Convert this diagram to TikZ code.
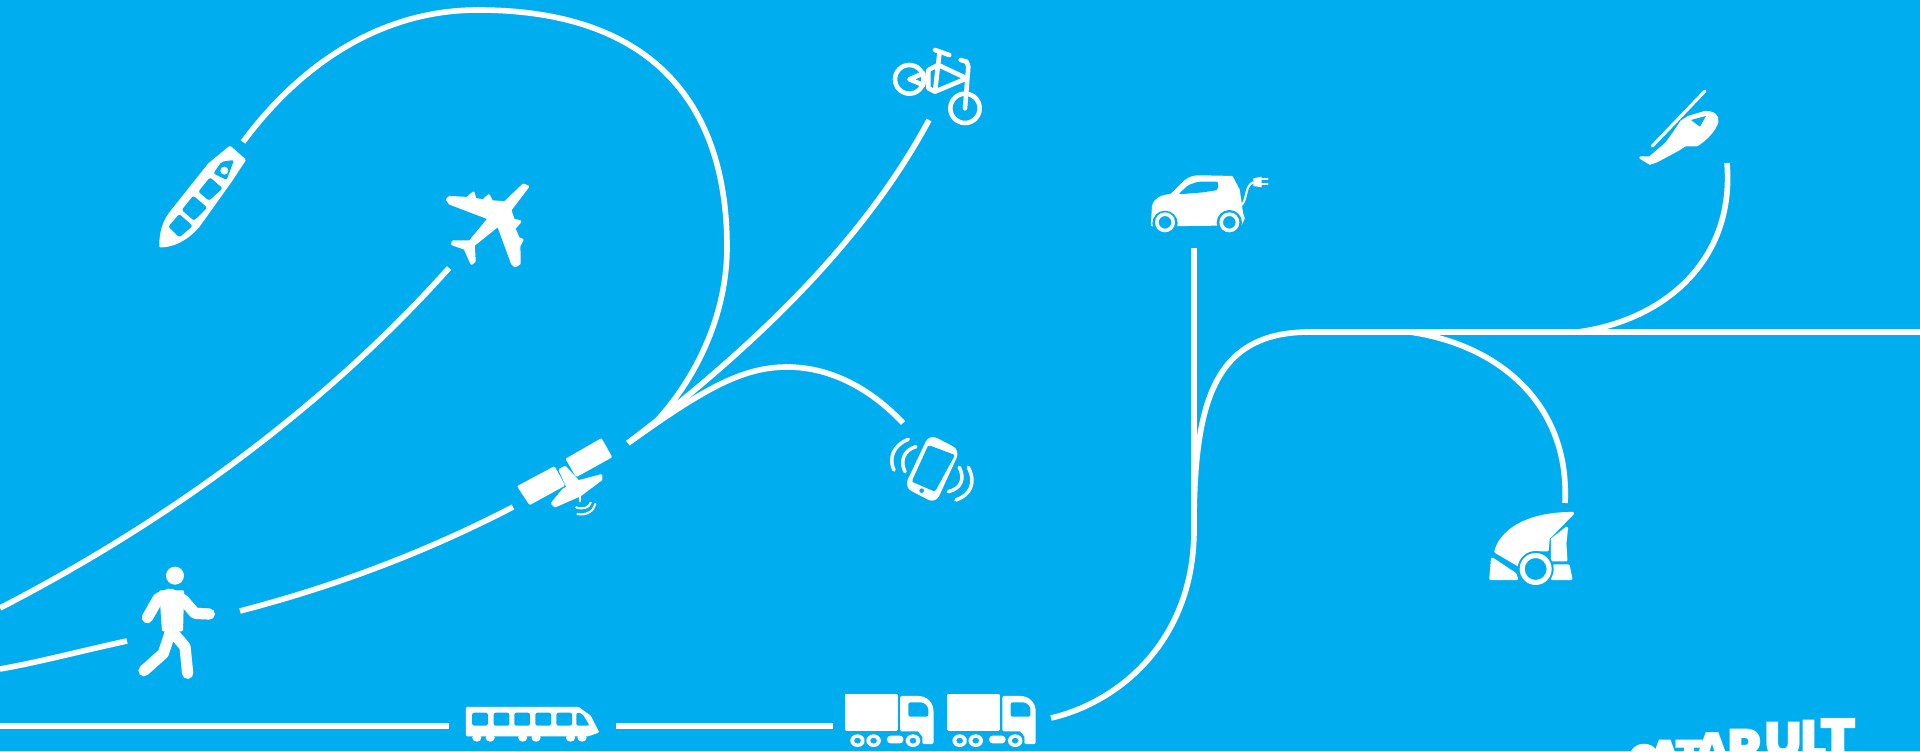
\documentclass[tikz,border=0pt]{standalone}
\usepackage{fontspec}
\newfontfamily\logofont{Poppins Black}
\definecolor{SkyBlue}{RGB}{0,174,239}
\tikzset{
  route/.style={draw=white,line width=1.6pt},
  solid icon/.style={fill=white,draw=white,line width=0.8pt,line join=round},
  cutout/.style={fill=SkyBlue,rounded corners=0.6pt},
  thin icon/.style={draw=white,line width=1.3pt,line cap=round,line join=round},
  limb/.style={draw=white,line width=3.2pt,line cap=round,line join=round},
  logoletter/.style={text=white,inner sep=0pt,anchor=base west,font=\logofont},
}
\begin{document}
\begin{tikzpicture}[x=0.01cm,y=-0.01cm]
\clip (0,0) rectangle (1920,751);
\fill[SkyBlue] (0,0) rectangle (1920,751);
% route ends
\coordinate (shipend) at (243,142);
\coordinate (hub) at (628,443);
\coordinate (bikeend) at (929,120);
\coordinate (phoneend) at (903,423);
\coordinate (planeend) at (449,268);
\coordinate (leftA) at (0,608);
\coordinate (satleft) at (513,507);
\coordinate (walkright) at (240,611);
\coordinate (walkleft) at (127,641);
\coordinate (leftB) at (0,669);
\coordinate (leftC) at (0,726);
\coordinate (trainleft) at (449,726);
\coordinate (trainright) at (616,726);
\coordinate (truckleft) at (833,726);
\coordinate (truckright) at (1051,718);
\coordinate (carend) at (1194,248);
\coordinate (split) at (1194,520);
\coordinate (rightedge) at (1920,332);
\coordinate (heliend) at (1727,163);
\coordinate (sweepend) at (1565,503);
% routes
\draw[route] (shipend) .. controls (300,65) and (380,10) .. (478,10) .. controls (658,10) and (727,110) .. (727,247) .. controls (727,310) and (700,375) .. (653,425) -- (hub);
\draw[route] (bikeend) .. controls (870,230) and (770,335) .. (hub);
\draw[route] (phoneend) .. controls (870,388) and (830,367) .. (787,367) .. controls (740,367) and (700,392) .. (hub);
\draw[route] (planeend) .. controls (340,390) and (190,510) .. (leftA);
\draw[route] (satleft) .. controls (430,550) and (340,585) .. (walkright);
\draw[route] (walkleft) .. controls (85,650) and (40,662) .. (leftB);
\draw[route] (leftC) -- (trainleft);
\draw[route] (trainright) -- (truckleft);
\draw[route] (truckright) .. controls (1120,702) and (1194,640) .. (1194,530) -- (carend);
\draw[route] (split) .. controls (1195,400) and (1215,332) .. (1310,332) -- (rightedge);
\draw[route] (heliend) .. controls (1735,260) and (1665,320) .. (1578,332);
\draw[route] (sweepend) .. controls (1570,405) and (1500,345) .. (1410,332);
% ship and plane
\begin{scope}[shift={(130,130)},scale=1/3]
\fill[solid icon] (92,348) .. controls (92,300) and (105,270) .. (125,245) -- (238,103) -- (300,52) -- (343,90) -- (300,155) -- (205,288) .. controls (170,328) and (130,348) .. (92,348) -- cycle;
\fill[cutout] (115,290) -- (148,252) -- (188,288) -- (148,322) -- cycle;
\fill[cutout] (155,240) -- (190,197) -- (232,233) -- (192,272) -- cycle;
\fill[cutout] (205,185) -- (240,142) -- (278,175) -- (237,212) -- cycle;
\fill[cutout] (250,130) -- (275,95) -- (312,90) -- (290,150) -- cycle;
\fill[white] (283,122) circle (12);
\fill[solid icon] (1193,170) -- (1140,240) -- (1150,270) -- (1170,275) -- (1152,295) -- (1165,325) -- (1176,330) -- (1167,348) -- (1168,400) -- (1155,408) -- (1147,400) -- (1105,285) -- (1030,345) -- (1033,393) -- (1025,400) -- (1005,355) -- (967,342) -- (970,335) -- (1020,335) -- (1078,265) -- (960,220) -- (952,208) -- (960,202) -- (1012,205) -- (1030,189) -- (1035,208) -- (1060,212) -- (1076,197) -- (1085,215) -- (1125,218) -- (1180,165) -- cycle;
\end{scope}
% bike
\begin{scope}[shift={(860,30)},scale=1/3]
\draw[thin icon] (148,148) circle (43);
\draw[thin icon] (315,235) circle (44);
\draw[thin icon] (315,235) -- (325,110) -- (320,95) -- (302,90);
\draw[thin icon] (225,60) -- (268,75);
\draw[thin icon] (238,72) -- (225,185) -- (320,145) -- (235,105) -- (205,120) -- (205,175) -- (225,185);
\draw[thin icon] (190,130) -- (148,148) -- (190,165) -- cycle;
\end{scope}
% satellite and phone
\begin{scope}[shift={(500,420)},scale=1/3]
\fill[solid icon] (57,200) -- (162,144) -- (190,195) -- (90,250) -- cycle;
\fill[solid icon] (202,118) -- (303,60) -- (331,110) -- (230,166) -- cycle;
\fill[solid icon] (180,150) -- (195,142) -- (235,185) -- (205,205) -- cycle;
\fill[solid icon] (157,250) -- (190,210) -- (235,185) -- (303,167) -- (303,178) -- (240,225) -- (165,258) -- cycle;
\draw[thin icon,line width=0.8pt] (240,225) -- (240,243);
\draw[thin icon,line width=0.6pt] (228,262) .. controls (250,270) and (268,262) .. (272,248);
\draw[thin icon,line width=0.6pt] (232,282) .. controls (260,288) and (282,272) .. (286,252);
\fill[solid icon,rounded corners=2pt] (1290,48) -- (1375,92) -- (1305,245) -- (1218,200) -- cycle;
\fill[cutout] (1285,75) -- (1365,105) -- (1305,215) -- (1235,185) -- cycle;
\fill[SkyBlue] (1265,212) circle (7);
\draw[thin icon,line width=1pt] (1225,58) .. controls (1180,75) and (1165,115) .. (1182,150);
\draw[thin icon,line width=1pt] (1248,80) .. controls (1210,90) and (1200,125) .. (1215,155);
\draw[thin icon,line width=1pt] (1378,142) .. controls (1395,175) and (1385,205) .. (1345,215);
\draw[thin icon,line width=1pt] (1405,142) .. controls (1430,190) and (1410,225) .. (1368,240);
\end{scope}
% walker
\begin{scope}[shift={(120,550)},scale=1/3]
\fill[white] (165,77) circle (27);
\fill[solid icon] (122,125) -- (188,125) -- (185,240) -- (130,240) -- cycle;
\draw[limb] (82,203) -- (115,145) -- (150,132) -- (190,150) -- (225,190) -- (268,192);
\draw[limb] (150,250) -- (130,310) -- (72,362);
\draw[limb] (165,255) -- (195,290) -- (203,370);
\end{scope}
% train and trucks
\begin{scope}[shift={(450,670)},xscale=600/1568,yscale=1/3]
\fill[solid icon] (45,115) -- (335,115) -- (365,140) -- (385,185) -- (360,195) -- (45,195) -- cycle;
\foreach \wx in {70,105,190,225,315,345} \fill[white] (\wx,203) circle (12);
\foreach \wx in {58,114,168,223,278} \fill[cutout] (\wx,128) rectangle +(41,39);
\fill[cutout] (330,128) -- (345,130) -- (365,167) -- (330,167) -- cycle;
\foreach \tx in {0,267} {
  \begin{scope}[shift={(\tx,0)}]
  \fill[solid icon] (1035,75) rectangle (1167,178);
  \fill[solid icon] (1180,82) -- (1222,82) .. controls (1245,82) and (1260,100) .. (1260,125) -- (1260,218) -- (1238,218) -- (1238,198) -- (1225,180) -- (1180,180) -- cycle;
  \fill[cutout] (1198,97) -- (1225,97) .. controls (1240,97) and (1250,110) .. (1250,125) -- (1250,140) -- (1198,140) -- cycle;
  \fill[white,rounded corners=1pt] (1142,197) rectangle (1185,220);
  \foreach \wx in {1065,1107,1210} {
    \fill[SkyBlue] (\wx,212) circle (24);
    \fill[white,even odd rule] (\wx,212) circle (19) (\wx,212) circle (9);
  }
  \end{scope}
}
\end{scope}
% car
\begin{scope}[shift={(1130,160)},scale=1/3]
\fill[solid icon] (67,190) -- (70,140) .. controls (75,115) and (95,110) .. (125,105) -- (165,65) .. controls (180,52) and (195,50) .. (210,50) -- (305,52) -- (325,90) -- (335,160) -- (340,175) -- (332,192) -- (67,195) -- cycle;
\fill[cutout] (145,103) -- (175,75) -- (205,65) -- (265,65) -- (263,90) -- (220,97) -- cycle;
\fill[SkyBlue] (105,190) circle (38) (298,188) circle (38);
\fill[SkyBlue] (60,200) rectangle (345,240);
\fill[white,even odd rule] (105,187) circle (30) (105,187) circle (19);
\fill[white,even odd rule] (298,187) circle (30) (298,187) circle (19);
\draw[thin icon,line width=0.6pt] (335,135) .. controls (352,118) and (345,75) .. (370,67);
\fill[white] (370,55) -- (395,50) -- (395,82) -- (370,78) -- cycle;
\draw[thin icon,line width=0.6pt] (395,58) -- (413,58) (395,73) -- (413,73);
\end{scope}
% helicopter
\begin{scope}[shift={(1620,80)},scale=1/3]
\draw[thin icon,line width=0.9pt] (97,198) -- (255,33);
\fill[solid icon] (62,233) -- (90,250) -- (110,243) -- (175,208) -- (195,195) -- (230,195) .. controls (255,180) and (285,150) .. (291,125) .. controls (293,105) and (280,97) .. (255,97) -- (205,112) -- (185,125) -- (165,155) -- (140,190) -- (90,233) -- cycle;
\fill[SkyBlue] (213,120) -- (258,108) -- (240,140) -- cycle;
\end{scope}
% sweeper
\begin{scope}[shift={(1470,500)},scale=1/3]
\fill[solid icon] (77,155) .. controls (90,100) and (160,40) .. (308,40) -- (235,115) -- (232,150) -- (190,150) -- (145,195) -- cycle;
\fill[solid icon] (247,118) -- (290,84) -- (285,130) -- (288,180) -- (247,180) -- cycle;
\fill[solid icon] (67,177) -- (135,222) -- (140,236) -- (62,236) -- cycle;
\fill[solid icon] (252,197) -- (295,197) -- (303,236) -- (247,236) -- cycle;
\fill[SkyBlue] (197,207) circle (54);
\fill[white,even odd rule] (197,207) circle (48) (197,207) circle (33);
\end{scope}
% logo
\foreach \letter/\lx/\lbase/\lsize in {C/1628/774/12,A/1647/772/13,T/1675/772/13,A/1693/767/14,P/1727/766/15,U/1764/759/15,L/1800/757/15,T/1820/759/16.5}{
  \node[logoletter] (logo\lx) at (\lx,\lbase) {\fontsize{\lsize}{\lsize}\selectfont\letter};
}
\end{tikzpicture}
\end{document}
